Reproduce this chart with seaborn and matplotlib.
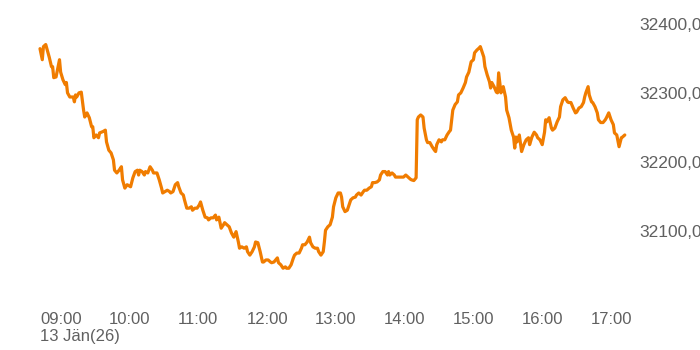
import matplotlib
matplotlib.use("Agg")
import matplotlib.pyplot as plt
import seaborn as sns
import pandas as pd
import numpy as np

# minutes after 09:00 on 13 Jan 2026
minutes = [0, 2, 3, 5, 8, 10, 11, 12, 14, 17, 18, 20, 22, 23, 24, 26, 29, 30, 31, 32,
           34, 36, 38, 39, 41, 43, 45, 46, 47, 49, 51, 52, 55, 57, 58, 60, 62, 64, 65, 67,
           69, 71, 72, 74, 76, 79, 81, 83, 85, 86, 87, 89, 91, 92, 94, 96, 98, 99, 102, 104,
           106, 107, 109, 111, 113, 114, 116, 118, 120, 121, 123, 125, 126, 128, 130, 132, 133, 135, 137, 139,
           140, 142, 144, 146, 147, 149, 151, 153, 154, 156, 158, 160, 161, 163, 165, 167, 169, 171, 173, 174,
           176, 178, 180, 181, 183, 185, 187, 188, 190, 192, 194, 195, 197, 199, 201, 202, 204, 207, 208, 210,
           212, 214, 215, 217, 219, 221, 222, 224, 226, 228, 229, 231, 233, 235, 236, 238, 240, 242, 243, 245,
           247, 248, 249, 251, 253, 255, 256, 258, 260, 262, 263, 264, 266, 268, 269, 271, 273, 275, 276, 278,
           280, 282, 283, 285, 287, 289, 290, 292, 294, 296, 297, 299, 301, 303, 304, 305, 307, 309, 310, 312,
           314, 316, 317, 319, 321, 323, 324, 326, 328, 329, 330, 332, 334, 335, 337, 338, 340, 342, 344, 345,
           346, 348, 350, 351, 353, 355, 357, 358, 359, 360, 362, 364, 365, 367, 369, 371, 372, 374, 376, 378,
           379, 381, 383, 384, 385, 387, 388, 390, 392, 393, 394, 396, 398, 399, 400, 401, 402, 404, 406, 407,
           409, 411, 413, 414, 415, 416, 418, 420, 422, 424, 426, 427, 429, 431, 433, 434, 436, 438, 440, 441,
           442, 444, 446, 447, 449, 451, 453, 454, 456, 458, 460, 461, 463, 465, 467, 468, 470, 472, 474, 475,
           476, 478, 479, 481, 482, 484, 486, 487, 489, 491, 493, 494, 496, 498, 500, 501, 503, 505, 507, 508,
           510]

prices = [32364, 32348, 32367, 32370, 32352, 32338, 32338, 32322, 32323, 32348, 32330, 32319, 32312, 32315, 32300, 32294, 32294, 32287, 32297, 32294,
          32300, 32301, 32275, 32265, 32271, 32264, 32251, 32251, 32235, 32239, 32235, 32242, 32244, 32246, 32229, 32217, 32213, 32203, 32188, 32184,
          32188, 32193, 32174, 32162, 32167, 32164, 32177, 32186, 32188, 32181, 32188, 32186, 32181, 32186, 32184, 32193, 32188, 32184, 32184, 32174,
          32162, 32155, 32157, 32159, 32157, 32155, 32157, 32167, 32170, 32164, 32155, 32152, 32145, 32133, 32133, 32135, 32130, 32133, 32133, 32138,
          32142, 32130, 32120, 32119, 32116, 32119, 32119, 32123, 32116, 32120, 32104, 32109, 32112, 32109, 32106, 32097, 32091, 32099, 32084, 32075,
          32077, 32075, 32077, 32070, 32065, 32070, 32077, 32084, 32083, 32070, 32055, 32055, 32058, 32058, 32055, 32054, 32055, 32061, 32054, 32051,
          32046, 32048, 32046, 32046, 32051, 32061, 32065, 32068, 32068, 32075, 32080, 32080, 32084, 32091, 32083, 32077, 32075, 32075, 32070, 32065,
          32070, 32084, 32101, 32106, 32109, 32120, 32135, 32148, 32155, 32155, 32149, 32135, 32128, 32130, 32135, 32145, 32148, 32149, 32152, 32155,
          32152, 32157, 32159, 32159, 32162, 32164, 32170, 32170, 32171, 32174, 32181, 32186, 32186, 32181, 32186, 32181, 32184, 32181, 32178, 32178,
          32178, 32178, 32178, 32181, 32178, 32175, 32174, 32173, 32177, 32261, 32265, 32268, 32265, 32249, 32232, 32228, 32228, 32222, 32217, 32215,
          32225, 32232, 32229, 32232, 32232, 32239, 32244, 32246, 32261, 32275, 32283, 32287, 32297, 32300, 32307, 32315, 32323, 32330, 32345, 32348,
          32358, 32362, 32365, 32367, 32362, 32352, 32338, 32326, 32316, 32307, 32315, 32309, 32301, 32300, 32329, 32315, 32300, 32309, 32294, 32275,
          32264, 32246, 32236, 32220, 32236, 32229, 32239, 32215, 32225, 32232, 32235, 32225, 32236, 32243, 32239, 32235, 32232, 32225, 32243, 32261,
          32258, 32264, 32249, 32246, 32249, 32258, 32265, 32280, 32290, 32293, 32287, 32286, 32286, 32278, 32271, 32272, 32278, 32280, 32286, 32294,
          32300, 32309, 32297, 32287, 32286, 32280, 32271, 32261, 32257, 32257, 32261, 32264, 32271, 32261, 32254, 32242, 32239, 32222, 32235, 32236,
          32239]

hour_ticks = [9, 10, 11, 12, 13, 14, 15, 16, 17]
hour_labels = ["09:00", "10:00", "11:00", "12:00", "13:00", "14:00", "15:00", "16:00", "17:00"]
date_label = "13 Jän(26)"
y_ticks = [32100, 32200, 32300, 32400]
y_labels = ["32100,00", "32200,00", "32300,00", "32400,00"]

df = pd.DataFrame({"hour": 9 + np.array(minutes) / 60.0, "price": prices})

sns.set_style("white")
plt.rcParams["font.family"] = ["Liberation Sans", "DejaVu Sans"]

text_color = "#606060"

fig = plt.figure(figsize=(7, 3.5), dpi=100)
ax = fig.add_axes([40 / 700, 1 - 300 / 350, 590 / 700, 290 / 350])
sns.lineplot(data=df, x="hour", y="price", ax=ax, color="#F07C00", linewidth=2.3)
for l in ax.lines:
    l.set_clip_on(False)

ax.set_xlim(9, 9 + 590 / 68.8)
ax.set_ylim(32000, 32420)
ax.set_xticks(hour_ticks)
ax.set_xticklabels(hour_labels, ha="left", va="top", fontsize=12, color=text_color)
ax.set_yticks(y_ticks)
ax.set_yticklabels(y_labels, fontsize=12.5, color=text_color)
ax.yaxis.tick_right()
ax.tick_params(axis="y", length=0, pad=7)
ax.tick_params(axis="x", length=0, pad=8.5)
ax.set_xlabel("")
ax.set_ylabel("")
for s in ax.spines.values():
    s.set_visible(False)
ax.grid(False)

fig.text(40 / 700, 1 - 337 / 350, date_label, ha="left", va="center",
         fontsize=12, color=text_color)

fig.savefig("out.png", dpi=100)
